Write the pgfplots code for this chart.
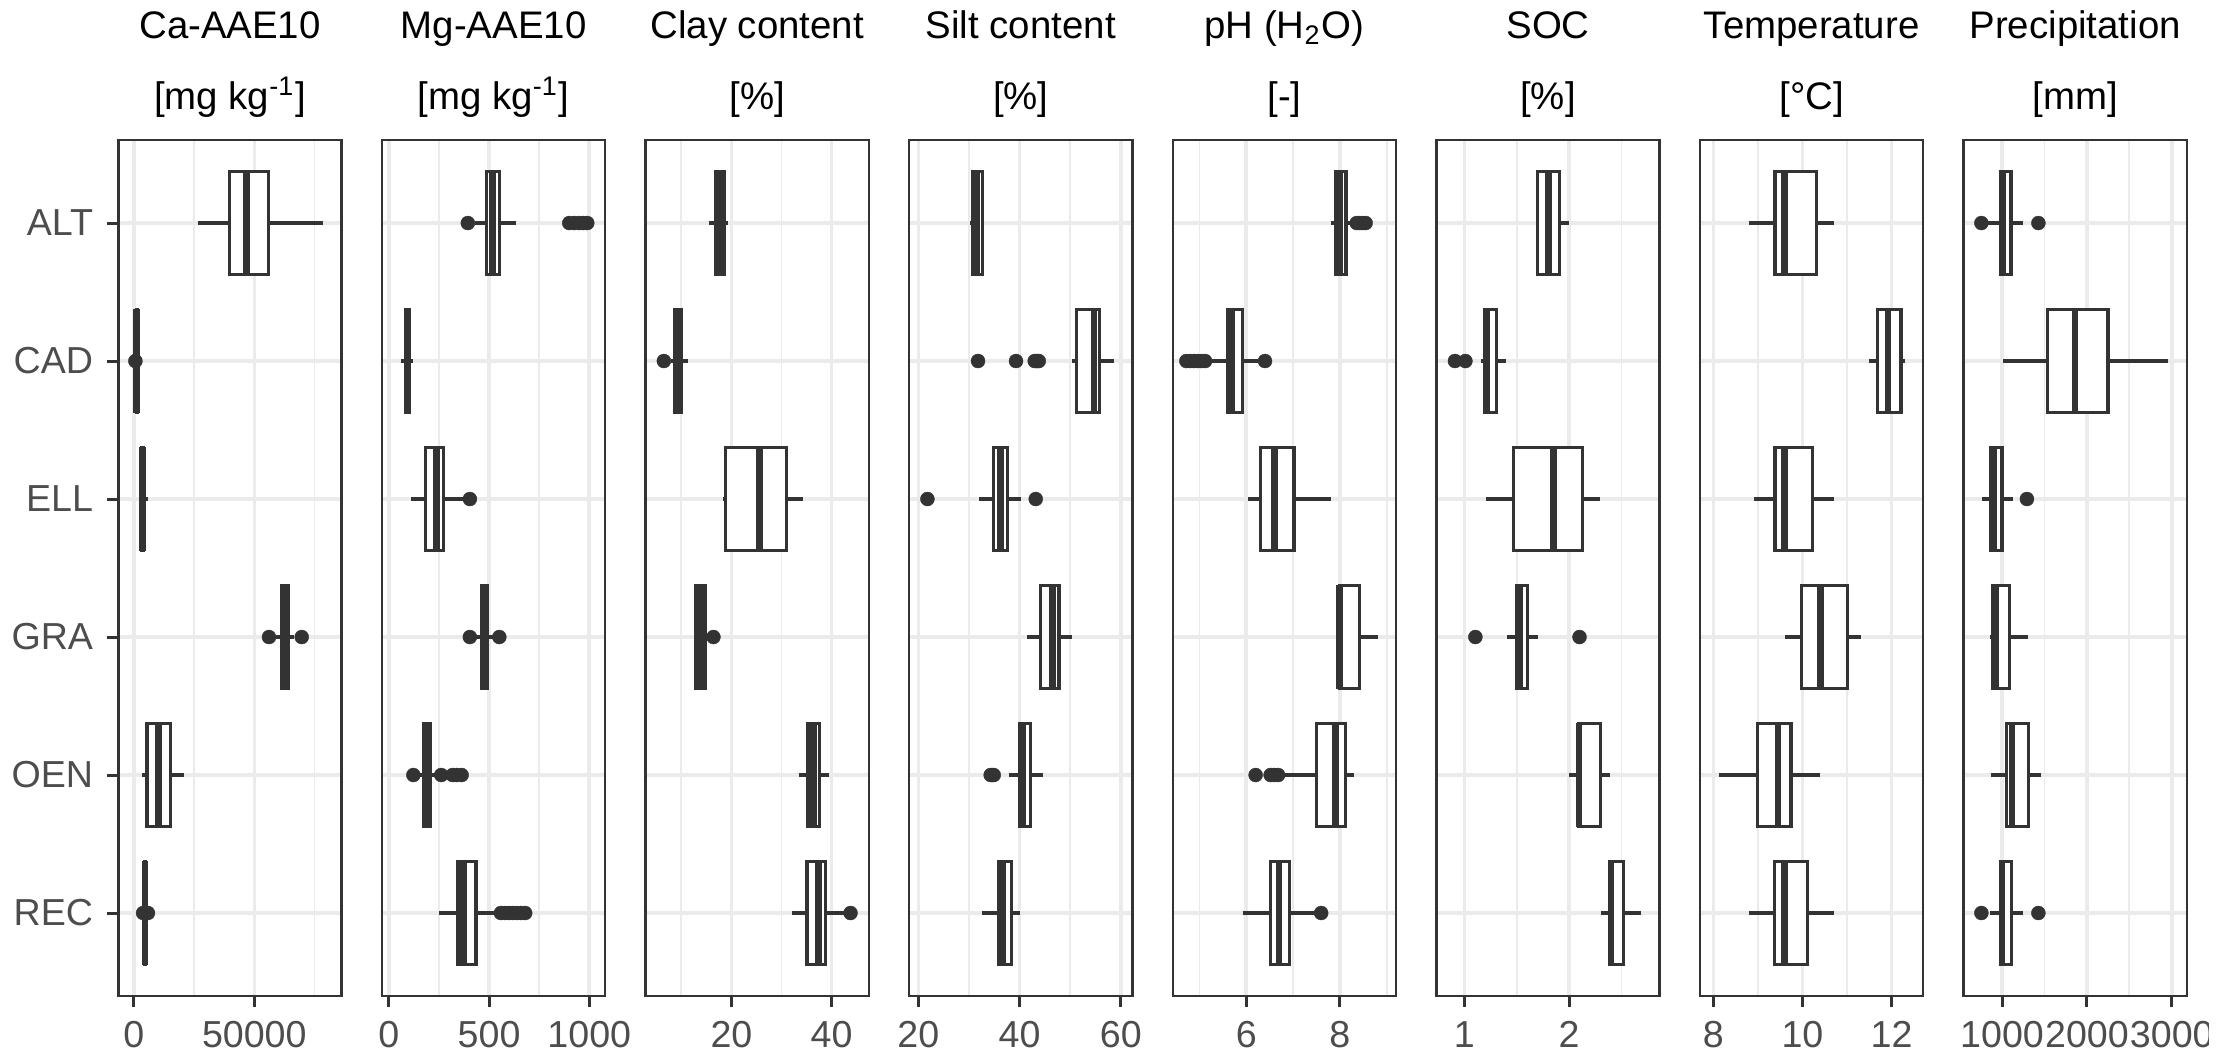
\documentclass[border=0pt]{standalone}
\usepackage{fontspec}
\setmainfont{Liberation Sans}
\usepackage{pgfplots}
\pgfplotsset{compat=1.18}
\usepgfplotslibrary{statistics}
\definecolor{c20}{HTML}{333333}
\definecolor{c30}{HTML}{4D4D4D}
\definecolor{c92}{HTML}{EBEBEB}
\pgfplotsset{
  /pgf/number format/1000 sep={},
  /pgf/number format/assume math mode=true,
  panel/.style={
    scale only axis, width=55.8pt, height=213.9pt, anchor=south west,
    ymin=0.4, ymax=6.6, ytick={1,2,3,4,5,6}, yticklabels={},
    xmajorgrids, xminorgrids, ymajorgrids,
    major grid style={c92, line width=0.9pt},
    minor grid style={c92, line width=0.45pt},
    axis line style={c20, line width=0.6pt},
    tick align=outside, xtick pos=bottom, ytick pos=left,
    major tick length=2.8pt, minor tick length=0pt,
    xtick style={draw=c20, line width=0.75pt},
    ytick style={draw=none},
    tick label style={font=\fontsize{9.4}{11}\selectfont, text=c30},
    scaled x ticks=false,
  },
  bxs/.style={draw=c20, fill=white, line width=0.8pt, mark=none,
    boxplot/draw direction=x, boxplot/box extend=0.75, boxplot/whisker extend=0,
    boxplot/every median/.style={line width=1.7pt}},
  pts/.style={only marks, mark=*, mark size=1.75pt, color=c20, mark options={line width=0.1pt, fill=c20}},
}
\newcommand{\bx}[6]{\addplot[bxs, boxplot prepared={draw position=#1, lower whisker=#2, lower quartile=#3, median=#4, upper quartile=#5, upper whisker=#6}] coordinates {};}
\newcommand{\ttl}[3]{%
  \node[anchor=base, font=\fontsize{9.6}{11}\selectfont] at (#1,253.8pt) {#2};
  \node[anchor=base, font=\fontsize{9.6}{11}\selectfont] at (#1,236.1pt) {#3};}
\begin{document}
\begin{tikzpicture}
\useasboundingbox (0,0) rectangle (559.5pt,263.5pt);
\clip (0,0) rectangle (552pt,263.5pt);
% ---------- Ca ----------
\begin{axis}[panel, at={(29.6pt,14.55pt)}, xmin=-6458, xmax=86250,
  xtick={0,50000}, minor xtick={25000,75000},
  yticklabels={REC,OEN,GRA,ELL,CAD,ALT}, ytick style={draw=c20, line width=0.75pt}]
\bx{6}{26530}{39620}{46760}{55790}{78570}
\bx{5}{900}{1000}{1150}{1300}{1500}
\bx{4}{2500}{3200}{3500}{3900}{5800}
\bx{3}{59000}{61500}{62800}{64000}{66500}
\bx{2}{3220}{5440}{10200}{15140}{20920}
\bx{1}{4000}{4300}{4600}{4900}{5300}
\addplot[pts] coordinates {(600,5) (56100,3) (69700,3) (3800,1) (5800,1)};
\end{axis}
% ---------- Mg ----------
\begin{axis}[panel, at={(95.5pt,14.55pt)}, xmin=-34.5, xmax=1079.5,
  xtick={0,500,1000}, minor xtick={250,750}]
\bx{6}{428}{488}{518}{551}{633}
\bx{5}{62}{85}{92}{100}{122}
\bx{4}{110}{184}{237}{271}{370}
\bx{3}{430}{465}{476}{490}{520}
\bx{2}{140}{172}{188}{205}{245}
\bx{1}{251}{345}{374}{435}{537}
\addplot[pts] coordinates {(394,6) (900,6) (925,6) (950,6) (970,6) (990,6)
  (404,4) (404,3) (551,3) (122,2) (261,2) (318,2) (340,2) (363,2)
  (559,1) (580,1) (600,1) (620,1) (640,1) (660,1) (680,1)};
\end{axis}
% ---------- Clay ----------
\begin{axis}[panel, at={(161.4pt,14.55pt)}, xmin=2.85, xmax=47.45,
  xtick={20,40}, minor xtick={10,30}]
\bx{6}{15.6}{16.9}{17.5}{18.5}{19.3}
\bx{5}{7.9}{8.6}{9.2}{10.1}{11.3}
\bx{4}{18.4}{18.8}{25.6}{31.0}{34.4}
\bx{3}{12.5}{12.9}{13.6}{14.7}{15.4}
\bx{2}{33.5}{35.3}{36.4}{37.6}{39.4}
\bx{1}{32.2}{35.1}{37.4}{38.8}{42.4}
\addplot[pts] coordinates {(6.5,5) (16.4,3) (43.8,1)};
\end{axis}
% ---------- Silt ----------
\begin{axis}[panel, at={(227.3pt,14.55pt)}, xmin=18.2, xmax=62.3,
  xtick={20,40,60}, minor xtick={30,50}]
\bx{6}{30.2}{30.7}{31.5}{32.7}{33.0}
\bx{5}{50.4}{51.3}{54.7}{55.8}{58.7}
\bx{4}{32.0}{34.9}{36.3}{37.6}{40.2}
\bx{3}{41.4}{44.2}{46.5}{47.8}{50.3}
\bx{2}{37.9}{40.1}{40.6}{42.2}{44.7}
\bx{1}{32.5}{35.8}{36.7}{38.4}{40.1}
\addplot[pts] coordinates {(31.8,5) (39.3,5) (43.0,5) (43.3,5) (43.6,5) (43.8,5)
  (21.8,4) (43.2,4) (34.3,2) (34.6,2) (34.9,2)};
\end{axis}
% ---------- pH ----------
\begin{axis}[panel, at={(293.2pt,14.55pt)}, xmin=4.43, xmax=9.20,
  xtick={6,8}, minor xtick={5,7,9}]
\bx{6}{7.82}{7.90}{7.99}{8.13}{8.28}
\bx{5}{5.27}{5.61}{5.68}{5.92}{6.26}
\bx{4}{6.04}{6.30}{6.61}{7.02}{7.81}
\bx{3}{7.93}{7.99}{8.00}{8.42}{8.81}
\bx{2}{6.73}{7.50}{7.90}{8.12}{8.30}
\bx{1}{5.93}{6.51}{6.70}{6.92}{7.47}
\addplot[pts] coordinates {(8.36,6) (8.42,6) (8.48,6) (8.55,6)
  (4.72,5) (4.80,5) (4.88,5) (4.96,5) (5.04,5) (5.12,5) (6.40,5)
  (6.20,2) (6.52,2) (6.60,2) (6.68,2) (7.60,1)};
\end{axis}
% ---------- SOC ----------
\begin{axis}[panel, at={(359.1pt,14.55pt)}, xmin=0.733, xmax=2.865,
  xtick={1,2}, minor xtick={1.5,2.5}]
\bx{6}{1.69}{1.70}{1.80}{1.905}{2.00}
\bx{5}{1.16}{1.19}{1.21}{1.31}{1.40}
\bx{4}{1.21}{1.47}{1.85}{2.13}{2.30}
\bx{3}{1.405}{1.50}{1.53}{1.605}{1.70}
\bx{2}{2.00}{2.09}{2.095}{2.30}{2.39}
\bx{1}{2.305}{2.39}{2.40}{2.52}{2.69}
\addplot[pts] coordinates {(0.91,5) (1.01,5) (1.105,3) (2.10,3)};
\end{axis}
% ---------- Temperature ----------
\begin{axis}[panel, at={(425.0pt,14.55pt)}, xmin=7.70, xmax=12.71,
  xtick={8,10,12}, minor xtick={9,11}]
\bx{6}{8.81}{9.385}{9.59}{10.31}{10.70}
\bx{5}{11.50}{11.69}{11.92}{12.21}{12.29}
\bx{4}{8.91}{9.385}{9.59}{10.22}{10.70}
\bx{3}{9.61}{9.98}{10.41}{11.01}{11.31}
\bx{2}{8.12}{8.99}{9.45}{9.74}{10.40}
\bx{1}{8.81}{9.38}{9.59}{10.11}{10.70}
\end{axis}
% ---------- Precipitation ----------
\begin{axis}[panel, at={(490.9pt,14.55pt)}, xmin=547, xmax=3177,
  xtick={1000,2000,3000}, minor xtick={1500,2500}]
\bx{6}{820}{979}{1010}{1105}{1252}
\bx{5}{1008}{1536}{1859}{2249}{2959}
\bx{4}{761}{870}{895}{1000}{1126}
\bx{3}{853}{887}{925}{1084}{1302}
\bx{2}{874}{1051}{1118}{1315}{1453}
\bx{1}{853}{987}{1000}{1113}{1252}
\addplot[pts] coordinates {(756,6) (1428,6) (1293,4) (756,1) (1428,1)};
\end{axis}
% ---------- titles ----------
\ttl{57.5pt}{Ca-AAE10}{[mg kg\textsuperscript{-1}]}
\ttl{123.4pt}{Mg-AAE10}{[mg kg\textsuperscript{-1}]}
\ttl{189.3pt}{Clay content}{[\%]}
\ttl{255.2pt}{Silt content}{[\%]}
\ttl{321.1pt}{pH (H\textsubscript{2}O)}{[-]}
\ttl{387.0pt}{SOC}{[\%]}
\ttl{452.9pt}{Temperature}{[°C]}
\ttl{518.8pt}{Precipitation}{[mm]}
\end{tikzpicture}
\end{document}
